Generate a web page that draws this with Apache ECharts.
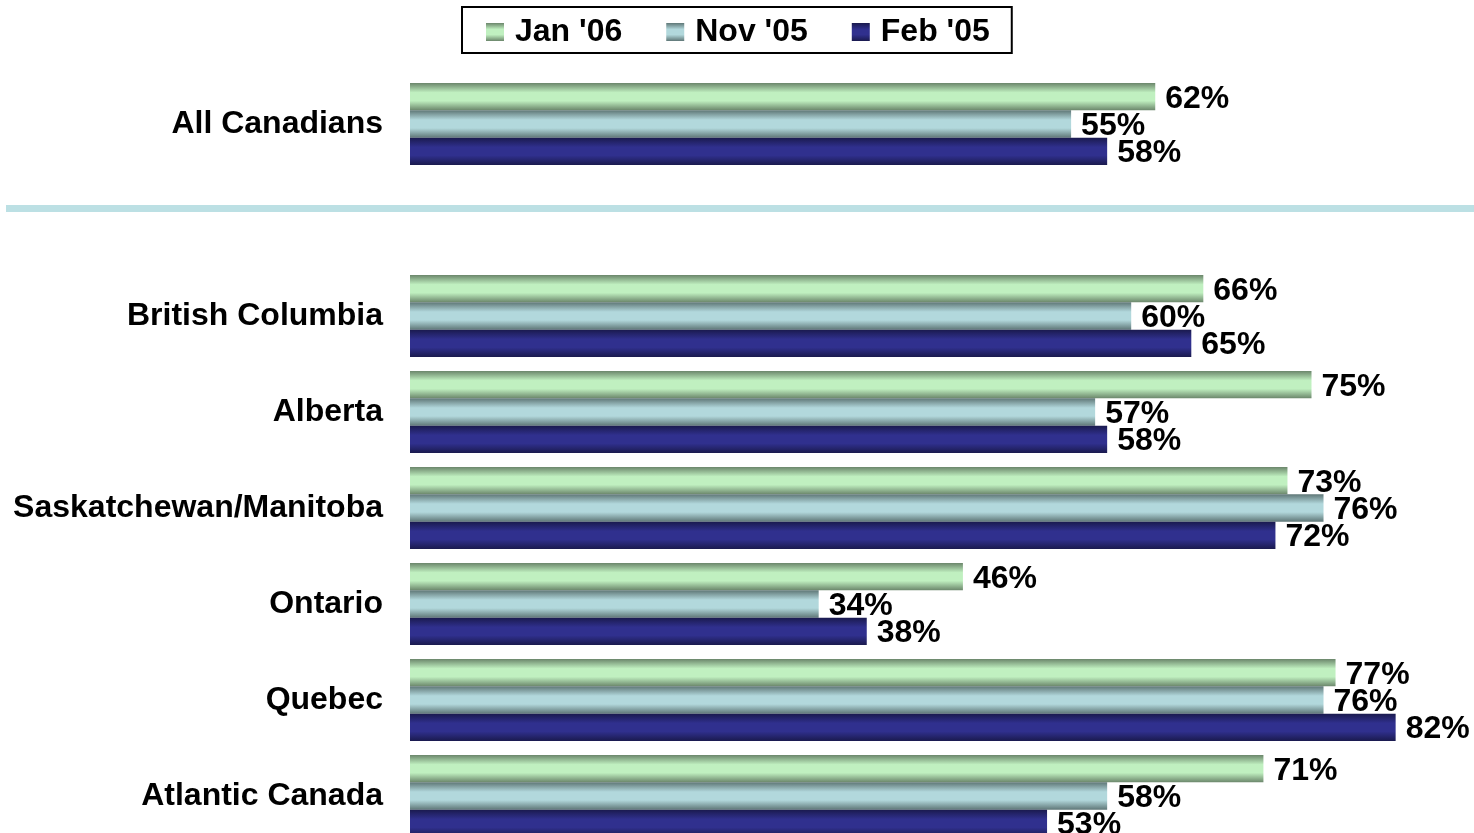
<!DOCTYPE html>
<html>
<head>
<meta charset="utf-8">
<script src="https://cdn.jsdelivr.net/npm/echarts@6/dist/echarts.min.js"></script>
<style>
  html, body { margin: 0; padding: 0; background: #fff; }
  #chart { width: 1474px; height: 833px; }
</style>
</head>
<body>
<div id="chart"></div>
<script>
// regions, top to bottom; the empty one is the gap under the national figure
var categories = ['All Canadians', '', 'British Columbia', 'Alberta', 'Saskatchewan/Manitoba', 'Ontario', 'Quebec', 'Atlantic Canada'];
var jan06 = [62, null, 66, 75, 73, 46, 77, 71];
var nov05 = [55, null, 60, 57, 76, 34, 76, 58];
var feb05 = [58, null, 65, 58, 72, 38, 82, 53];

var fontFamily = '"Liberation Sans", Arial, sans-serif';

function shade(edge, mid) {
    return new echarts.graphic.LinearGradient(0, 0, 0, 1, [
        { offset: 0, color: edge },
        { offset: 0.35, color: mid },
        { offset: 0.65, color: mid },
        { offset: 1, color: edge }
    ]);
}

function barSeries(name, data, color) {
    return {
        name: name,
        type: 'bar',
        data: data,
        barGap: '0%',
        barCategoryGap: '14.6%',
        itemStyle: { color: color },
        label: {
            show: true,
            position: 'right',
            distance: 10,
            offset: [0, 2],
            formatter: '{c}%',
            color: '#000',
            fontSize: 32,
            fontWeight: 'bold',
            fontFamily: fontFamily
        }
    };
}

var chart = echarts.init(document.getElementById('chart'));
chart.setOption({
    animation: false,
    backgroundColor: '#fff',
    legend: {
        left: 462,
        top: 7,
        padding: [8, 22, 4, 24],
        itemGap: 44,
        itemWidth: 18,
        itemHeight: 18,
        borderColor: '#000',
        borderWidth: 2,
        icon: 'rect',
        textStyle: {
            color: '#000',
            fontSize: 32,
            fontWeight: 'bold',
            fontFamily: fontFamily,
            lineHeight: 34,
            padding: [0, 0, 0, 6]
        }
    },
    grid: { left: 410, top: 76, width: 1202, height: 768, outerBoundsMode: 'none' },
    xAxis: {
        type: 'value',
        min: 0,
        max: 100,
        show: false
    },
    yAxis: {
        type: 'category',
        data: categories,
        inverse: true,
        axisLine: { show: false },
        axisTick: { show: false },
        axisLabel: {
            margin: 27,
            padding: [4, 0, 0, 0],
            color: '#000',
            fontSize: 32,
            fontWeight: 'bold',
            fontFamily: fontFamily
        }
    },
    graphic: [{
        type: 'rect',
        shape: { x: 6, y: 205, width: 1468, height: 7 },
        style: { fill: '#bce0e4' }
    }],
    series: [
        barSeries("Jan '06", jan06, shade('#6b866b', '#c0f0c0')),
        barSeries("Nov '05", nov05, shade('#5f7777', '#b2d8dc')),
        barSeries("Feb '05", feb05, shade('#1a1a4e', '#30308e'))
    ]
});
</script>
</body>
</html>
